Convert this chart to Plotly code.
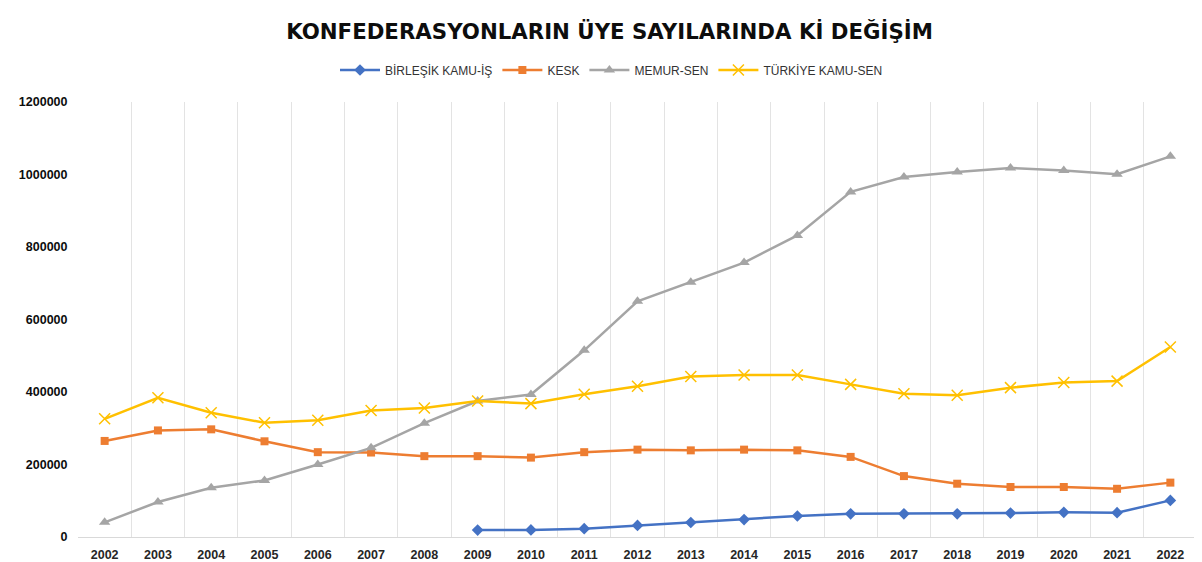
import plotly.graph_objects as go

years = list(range(2002, 2023))

birlesik_kamu_is = [None, None, None, None, None, None, None,
                    19000, 19500, 23000, 32000, 40000, 48000, 58000,
                    64000, 64000, 64000, 66000, 68000, 67000, 101000]
kesk = [265000, 294000, 297000, 264000, 234000, 233000, 223000,
        223000, 219000, 234000, 241000, 239000, 241000, 239000,
        221000, 168000, 147000, 138000, 138000, 133000, 150000]
memur_sen = [40500, 96500, 136000, 156000, 200000, 246000, 314000,
             375000, 393000, 515000, 650000, 703000, 757000, 832000,
             952000, 993000, 1007000, 1018000, 1011000, 1001000, 1050000]
turkiye_kamu_sen = [326000, 384000, 343000, 315000, 322000, 349000, 356000,
                    375000, 368000, 394000, 416000, 443000, 447000, 447000,
                    421000, 395000, 391000, 412000, 426000, 430000, 524000]

series_names = ["BİRLEŞİK KAMU-İŞ", "KESK", "MEMUR-SEN", "TÜRKİYE KAMU-SEN"]
y_ticks = [0, 200000, 400000, 600000, 800000, 1000000, 1200000]
title_text = "KONFEDERASYONLARIN ÜYE SAYILARINDA Kİ DEĞİŞİM"

styles = [
    dict(color="#4472C4", symbol="diamond", size=9),
    dict(color="#ED7D31", symbol="square", size=8),
    dict(color="#A5A5A5", symbol="triangle-up", size=10),
    dict(color="#FFC000", symbol="x-thin", size=11),
]

fig = go.Figure()
for name, vals, st in zip(series_names,
                          [birlesik_kamu_is, kesk, memur_sen, turkiye_kamu_sen],
                          styles):
    marker = dict(color=st["color"], symbol=st["symbol"], size=st["size"])
    if st["symbol"] == "x-thin":
        marker["line"] = dict(color=st["color"], width=1.5)
    fig.add_trace(go.Scatter(
        x=years, y=vals, name=name, mode="lines+markers",
        line=dict(color=st["color"], width=2.5),
        marker=marker, connectgaps=False,
    ))

# The page body has an 8px margin, so the figure is placed at (8, 8)
OFF = 8
W, H = 1202 - OFF, 562 - OFF
ml, mr, mt, mb = 78 - OFF, 5, 102 - OFF, 25
pw, ph = W - ml - mr, H - mt - mb

fig.update_layout(
    width=W, height=H,
    margin=dict(l=ml, r=mr, t=mt, b=mb, autoexpand=False),
    paper_bgcolor="white", plot_bgcolor="white",
    font=dict(family="Liberation Sans, Arial, sans-serif", color="#262626"),
    title=dict(
        text=title_text, x=(609.5 - OFF) / W, xref="container", xanchor="center",
        y=1 - (32 - OFF) / H, yref="container", yanchor="middle",
        font=dict(family="DejaVu Sans, sans-serif", size=21.3, color="#0d0d0d",
                  weight="bold"),
    ),
    legend=dict(
        orientation="h", x=(611.5 - OFF - ml) / pw, xanchor="center",
        y=1 + (mt - (70 - OFF)) / ph, yanchor="middle",
        font=dict(size=12, color="#333333"),
        itemwidth=40, tracegroupgap=0,
    ),
    showlegend=True,
)

fig.update_xaxes(
    range=[2001.5, 2022.5], automargin=False,
    tickmode="array", tickvals=years, ticktext=[str(y) for y in years],
    showgrid=False, zeroline=False,
    showline=True, linecolor="#d9d9d9", linewidth=1,
    ticks="outside", ticklen=6, tickcolor="rgba(0,0,0,0)",
    tickfont=dict(size=12.5, color="#262626", weight="bold"),
    minor=dict(tick0=2001.5, dtick=1, showgrid=True, gridcolor="#e3e3e3",
               gridwidth=1, ticks=""),
    fixedrange=True,
)
fig.update_yaxes(
    range=[0, 1200000], automargin=False,
    tickmode="array", tickvals=y_ticks, ticktext=[str(v) for v in y_ticks],
    showgrid=False, zeroline=False, showline=False,
    ticks="outside", ticklen=7, tickcolor="rgba(0,0,0,0)",
    tickfont=dict(size=12.5, color="#0d0d0d", weight="bold"),
    fixedrange=True,
)

# light outer chart border
fig.add_shape(type="rect", xref="paper", yref="paper",
              x0=(6 - OFF - ml) / pw, x1=(1199 - OFF - ml) / pw,
              y0=(mt + ph - 580) / ph, y1=(mt + ph - (3 - OFF)) / ph,
              line=dict(color="#d9d9d9", width=1), fillcolor="rgba(0,0,0,0)",
              layer="below")

fig.write_html("out.html")
